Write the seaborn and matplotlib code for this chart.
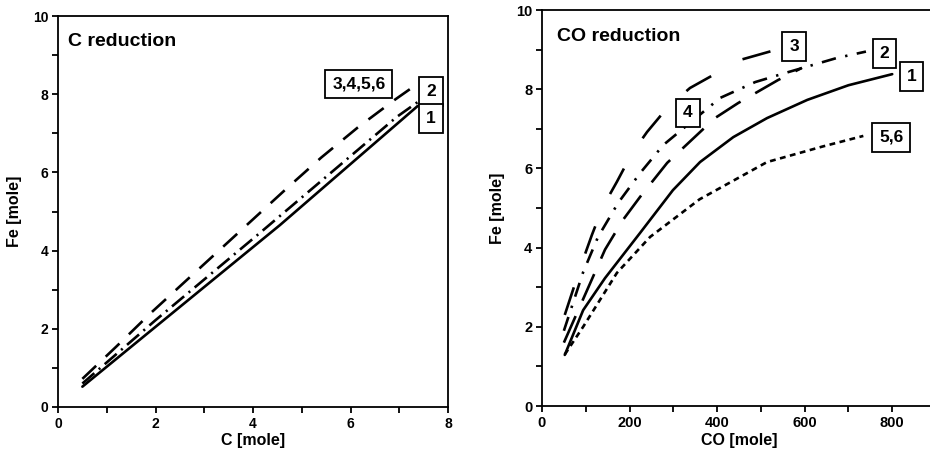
import matplotlib
matplotlib.use("Agg")
import matplotlib.pyplot as plt
import pandas as pd
import seaborn as sns
from matplotlib.ticker import MultipleLocator

# ---------------- data: left panel (C reduction) ----------------
c_labels = ["1", "2", "3,4,5,6"]
c1_x = [0.5, 2.0, 4.55, 7.38]
c1_y = [0.52, 2.05, 4.65, 7.70]
c2_x = [0.5, 2.0, 4.14, 6.95, 7.38]
c2_y = [0.60, 2.22, 4.45, 7.42, 7.80]
c3_x = [0.5, 1.2, 1.9, 2.6, 3.3, 4.0, 4.7, 5.4, 6.15, 6.9, 7.3]
c3_y = [0.72, 1.55, 2.40, 3.20, 4.00, 4.80, 5.60, 6.38, 7.15, 7.85, 8.20]

# ---------------- data: right panel (CO reduction) ----------------
co_labels = ["1", "2", "3", "4", "5,6"]
co1_x = [52, 94, 144, 224, 299, 361, 437, 514, 606, 700, 800]
co1_y = [1.29, 2.42, 3.23, 4.37, 5.45, 6.16, 6.79, 7.27, 7.73, 8.10, 8.38]
co2_x = [50, 94, 128, 174, 224, 277, 407, 487, 562, 674, 740]
co2_y = [1.90, 3.38, 4.27, 5.13, 5.88, 6.59, 7.78, 8.18, 8.43, 8.79, 8.95]
co3_x = [52, 91, 114, 139, 171, 206, 240, 286, 338, 453, 549]
co3_y = [2.30, 3.61, 4.32, 5.03, 5.66, 6.39, 6.92, 7.53, 8.03, 8.74, 9.04]
co4_x = [50, 144, 185, 224, 286, 395, 448, 539, 594]
co4_y = [1.60, 3.95, 4.70, 5.28, 6.14, 7.27, 7.65, 8.23, 8.54]
co56_x = [52, 94, 171, 247, 360, 514, 640, 734]
co56_y = [1.30, 2.00, 3.36, 4.27, 5.22, 6.16, 6.55, 6.82]

# ---------------- build tables ----------------
def frame(labels, xs, ys):
    rows = []
    for lab, x, y in zip(labels, xs, ys):
        for xi, yi in zip(x, y):
            rows.append({"curve": lab, "x": xi, "y": yi})
    return pd.DataFrame(rows)

df_c = frame(c_labels, [c1_x, c2_x, c3_x], [c1_y, c2_y, c3_y])
df_co = frame(co_labels, [co1_x, co2_x, co3_x, co4_x, co56_x],
              [co1_y, co2_y, co3_y, co4_y, co56_y])

sns.set_style("ticks")
plt.rcParams["font.family"] = ["Liberation Sans", "DejaVu Sans"]
plt.rcParams["font.weight"] = "bold"
plt.rcParams["axes.labelweight"] = "bold"
plt.rcParams["axes.linewidth"] = 1.3
for k in ["text.color", "axes.labelcolor", "xtick.color", "ytick.color",
          "xtick.labelcolor", "ytick.labelcolor", "axes.edgecolor"]:
    plt.rcParams[k] = "black"

fig = plt.figure(figsize=(9.3, 4.59), dpi=100)
fig.patch.set_facecolor("white")

axL = fig.add_axes([58 / 930, 52 / 459, 390 / 930, 391 / 459])
axR = fig.add_axes([542 / 930, 53 / 459, 394 / 930, 396 / 459])

LW = 1.9
dash_c = {"1": "", "2": (6, 2.2, 0.8, 2.2), "3,4,5,6": (7.2, 5.0)}
dash_co = {"1": "", "2": (5.5, 3.6, 0.9, 3.6), "3": (11, 13.5),
           "4": (11, 6.4), "5,6": (2.2, 1.7)}

sns.lineplot(data=df_c, x="x", y="y", style="curve", dashes=dash_c,
             color="black", linewidth=LW, legend=False, sort=False,
             estimator=None, ax=axL)
sns.lineplot(data=df_co, x="x", y="y", style="curve", dashes=dash_co,
             color="black", linewidth=LW, legend=False, sort=False,
             estimator=None, ax=axR)

def style_axes(ax, xmax, xmaj, xmin_step, xlabel, labelsize):
    ax.set_xlim(0, xmax)
    ax.set_ylim(0, 10)
    ax.xaxis.set_major_locator(MultipleLocator(xmaj))
    ax.xaxis.set_minor_locator(MultipleLocator(xmin_step))
    ax.yaxis.set_major_locator(MultipleLocator(2))
    ax.yaxis.set_minor_locator(MultipleLocator(1))
    ax.tick_params(which="major", direction="out", length=4, width=1.3,
                   labelsize=labelsize, pad=3, colors="black")
    ax.tick_params(which="minor", direction="out", length=4, width=1.3,
                   colors="black")
    for s in ax.spines.values():
        s.set_visible(True)
        s.set_linewidth(1.3)
        s.set_color("black")
    ax.set_xlabel(xlabel, fontsize=11.5, fontweight="bold", labelpad=2)
    ax.set_ylabel("Fe [mole]", fontsize=11.5, fontweight="bold", labelpad=8)

style_axes(axL, 8, 2, 1, "C [mole]", 10)
style_axes(axR, 900, 200, 100, "CO [mole]", 10.5)

axL.text(0.026, 0.957, "C reduction", transform=axL.transAxes,
         fontsize=14, fontweight="bold", va="top", ha="left")
axR.text(0.038, 0.955, "CO reduction", transform=axR.transAxes,
         fontsize=14, fontweight="bold", va="top", ha="left")

box = dict(boxstyle="square,pad=0.4", fc="white", ec="black", lw=1.3)

def tag(ax, x, y, s):
    ax.text(x, y, s, fontsize=12.5, fontweight="bold", ha="center",
            va="center", bbox=box, zorder=5)

tag(axL, 6.17, 8.26, "3,4,5,6")
tag(axL, 7.65, 8.08, "2")
tag(axL, 7.65, 7.37, "1")

tag(axR, 576, 9.07, "3")
tag(axR, 782, 8.91, "2")
tag(axR, 844, 8.31, "1")
tag(axR, 333, 7.40, "4")
tag(axR, 798, 6.79, "5,6")

fig.canvas.draw()
for ax in (axL, axR):
    for lab in ax.get_xticklabels() + ax.get_yticklabels():
        lab.set_fontweight("bold")

fig.savefig("out.png", dpi=100, facecolor="white")
